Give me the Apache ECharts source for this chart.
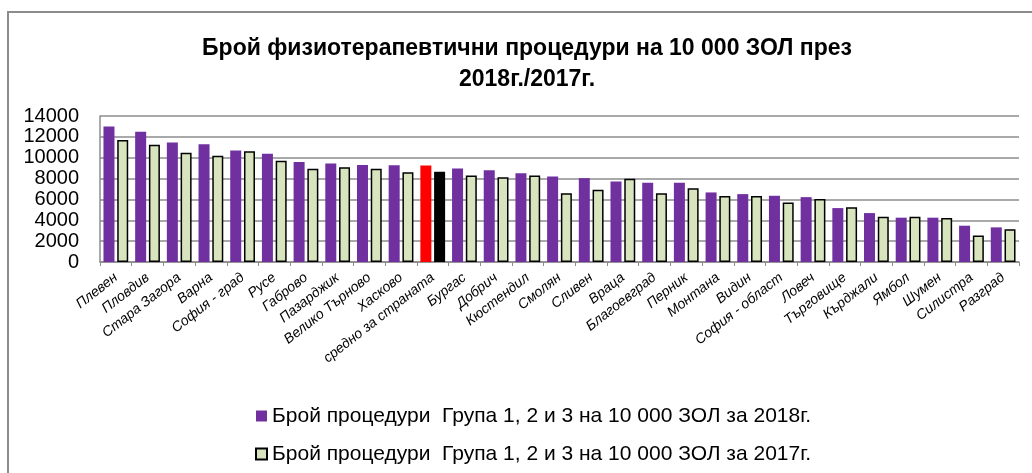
<!DOCTYPE html>
<html>
<head>
<meta charset="utf-8">
<script src="https://cdn.jsdelivr.net/npm/echarts@6/dist/echarts.min.js"></script>
<style>
  html, body { margin: 0; padding: 0; background: #fff; }
  #chart { width: 1032px; height: 473px; }
</style>
</head>
<body>
<div id="chart"></div>
<script>
// области
const categories = ['Плевен', 'Пловдив', 'Стара Загора', 'Варна', 'София - град', 'Русе', 'Габрово',
  'Пазарджик', 'Велико Търново', 'Хасково', 'средно за страната', 'Бургас', 'Добрич', 'Кюстендил',
  'Смолян', 'Сливен', 'Враца', 'Благоевград', 'Перник', 'Монтана', 'Видин', 'София - област',
  'Ловеч', 'Търговище', 'Кърджали', 'Ямбол', 'Шумен', 'Силистра', 'Разград'];

// 2018г.
const values2018 = [13000, 12500, 11450, 11300, 10700, 10380, 9600, 9450, 9300, 9280, 9250, 8970,
  8800, 8520, 8200, 8040, 7720, 7600, 7600, 6670, 6510, 6350, 6220, 5170, 4690, 4250, 4250, 3480, 3320];

// 2017г.
const values2017 = [11700, 11250, 10470, 10180, 10620, 9700, 8940, 9090, 8940, 8610, 8650, 8300,
  8130, 8300, 6600, 6930, 7980, 6600, 7080, 6320, 6320, 5710, 6030, 5260, 4340, 4340, 4210, 2530, 3130];

const yTicks = [0, 2000, 4000, 6000, 8000, 10000, 12000, 14000];

const seriesNames = [
  'Брой процедури  Група 1, 2 и 3 на 10 000 ЗОЛ за 2018г.',
  'Брой процедури  Група 1, 2 и 3 на 10 000 ЗОЛ за 2017г.'
];

const avgName = 'средно за страната';
const font = "'Liberation Sans', Arial, sans-serif";

let myChart = echarts.init(document.getElementById('chart'));

// средно за страната - червено / черно
const data2018 = values2018.map((v, i) =>
  categories[i] === avgName ? { value: v, itemStyle: { color: '#FF0000' } } : v);
const data2017 = values2017.map((v, i) =>
  categories[i] === avgName ? { value: v, itemStyle: { color: '#000000' } } : v);

myChart.setOption({
  animation: false,
  backgroundColor: '#fff',
  textStyle: { fontFamily: font },
  graphic: [{
    type: 'rect',
    shape: { x: 8, y: 12, width: 1100, height: 600 },
    style: { fill: 'none', stroke: '#8c8c8c', lineWidth: 2 },
    silent: true
  }],
  title: {
    text: 'Брой физиотерапевтични процедури на 10 000 ЗОЛ през\n2018г./2017г.',
    left: 522,
    textAlign: 'center',
    top: 28,
    textStyle: {
      fontFamily: font,
      fontSize: 23,
      fontWeight: 'bold',
      color: '#000',
      lineHeight: 31
    }
  },
  legend: {
    orient: 'vertical',
    left: 250,
    top: 400,
    itemWidth: 11,
    itemHeight: 11,
    itemGap: 16,
    icon: 'rect',
    textStyle: { fontFamily: font, fontSize: 21, color: '#000', lineHeight: 22 },
    data: seriesNames
  },
  grid: {
    left: 100,
    right: 13,
    top: 116,
    bottom: 211,
    containLabel: false
  },
  xAxis: {
    type: 'category',
    data: categories,
    axisLine: { lineStyle: { color: '#8c8c8c', width: 1.5 } },
    axisTick: { show: true, length: 4, lineStyle: { color: '#8c8c8c' } },
    axisLabel: {
      interval: 0,
      rotate: 38,
      margin: 14,
      fontSize: 14,
      fontStyle: 'italic',
      color: '#000',
      fontFamily: font
    }
  },
  yAxis: {
    type: 'value',
    min: yTicks[0],
    max: yTicks[yTicks.length - 1],
    interval: 2000,
    axisLine: { show: true, lineStyle: { color: '#8c8c8c', width: 1.5 } },
    axisTick: { show: false },
    splitLine: { lineStyle: { color: '#8c8c8c', width: 1.5 } },
    axisLabel: {
      fontSize: 20,
      color: '#000',
      margin: 21,
      fontFamily: font,
      formatter: v => String(v)
    }
  },
  series: [{
    name: seriesNames[0],
    type: 'bar',
    data: data2018,
    barWidth: 11,
    barGap: '25%',
    itemStyle: { color: '#7030A0' }
  }, {
    name: seriesNames[1],
    type: 'bar',
    data: data2017,
    barWidth: 11,
    itemStyle: { color: '#D7E4BD', borderColor: '#000', borderWidth: 1.5 }
  }]
});
</script>
</body>
</html>
